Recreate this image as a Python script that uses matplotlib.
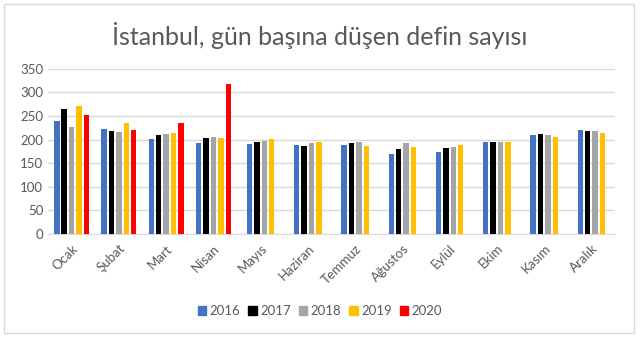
import matplotlib.pyplot as plt
from matplotlib.patches import Rectangle, Patch

months = ['Ocak', 'Şubat', 'Mart', 'Nisan', 'Mayıs', 'Haziran',
          'Temmuz', 'Ağustos', 'Eylül', 'Ekim', 'Kasım', 'Aralık']

years = ['2016', '2017', '2018', '2019', '2020']
d2016 = [240, 223, 201, 192, 190, 188, 189, 169, 174, 194, 209, 221]
d2017 = [265, 219, 209, 204, 194, 187, 192, 181, 183, 194, 211, 218]
d2018 = [226, 217, 211, 206, 196, 193, 194, 192, 185, 194, 209, 218]
d2019 = [272, 235, 213, 204, 201, 194, 187, 185, 189, 194, 205, 214]
d2020 = [252, 221, 235, 318]  # only the first four months

colors = ['#4472C4', '#000000', '#A5A5A5', '#FFC000', '#FF0000']
series = [d2016, d2017, d2018, d2019, d2020]

plt.rcParams['font.family'] = ['Lato', 'DejaVu Sans']
text_color = '#595959'

fig = plt.figure(figsize=(6.4, 3.39), dpi=100)
ax = fig.add_axes([0.075, 0.31, 0.886, 0.487])

slot = 0.157
bar_w = 0.115
for i in range(len(months)):
    # series that have a value for this month, centred within the group
    present = [k for k in range(len(series)) if i < len(series[k])]
    n = len(present)
    for j, k in enumerate(present):
        x = i + (j - (n - 1) / 2) * slot
        ax.bar(x, series[k][i], width=bar_w, color=colors[k], zorder=3)

ax.set_xlim(-0.5, 11.5)
ax.set_ylim(0, 350)
ax.set_yticks(range(0, 351, 50))
ax.yaxis.grid(True, color='#D9D9D9', linewidth=1, zorder=0)
for s in ax.spines.values():
    s.set_visible(False)
ax.spines['bottom'].set_visible(True)
ax.spines['bottom'].set_color('#D9D9D9')
ax.tick_params(axis='both', length=0, colors=text_color, labelsize=9.5)
ax.set_xticks(range(len(months)))
ax.set_xticklabels(months, rotation=45, ha='right', rotation_mode='anchor')
ax.tick_params(axis='x', pad=6)

fig.text(0.5, 0.895, 'İstanbul, gün başına düşen defin sayısı', ha='center',
         va='center', fontsize=18, color=text_color)

handles = [Patch(color=c, label=y) for c, y in zip(colors, years)]
fig.legend(handles=handles, loc='center', bbox_to_anchor=(0.5, 0.083), ncol=5,
           frameon=False, fontsize=9.5, handlelength=0.65, handleheight=0.65,
           handletextpad=0.25, columnspacing=0.6, labelcolor=text_color)

fig.patches.append(Rectangle((0.006, 0.018), 0.984, 0.97, transform=fig.transFigure,
                             fill=False, edgecolor='#D9D9D9', linewidth=1))

fig.savefig('out.png', dpi=100)
